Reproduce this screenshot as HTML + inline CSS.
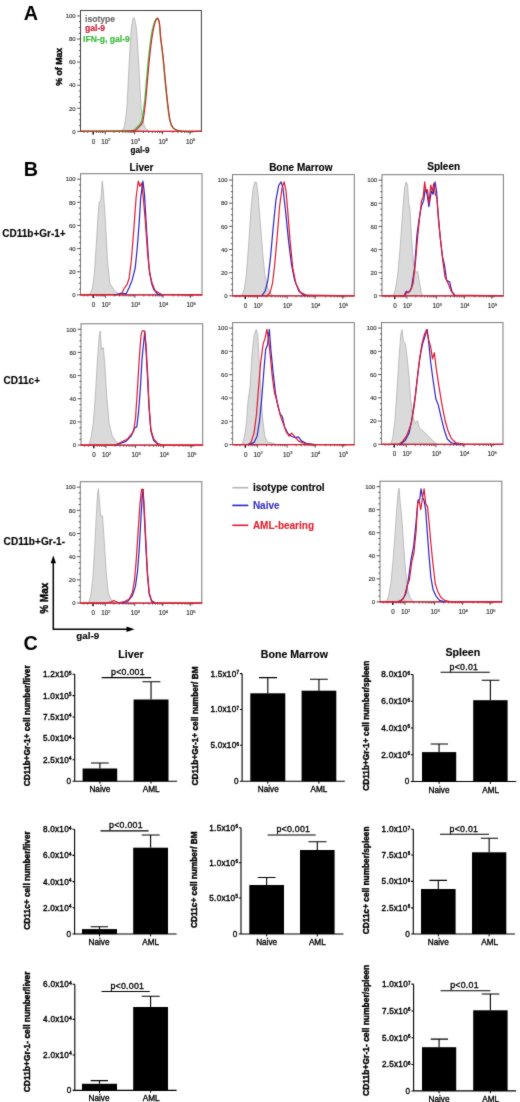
<!DOCTYPE html>
<html lang="en"><head><meta charset="utf-8"><title>Figure</title>
<style>html,body{margin:0;padding:0;background:#fff}body{width:520px;height:1102px;overflow:hidden}svg{display:block;font-family:'Liberation Sans', sans-serif}</style>
</head><body>
<svg width="520" height="1102" viewBox="0 0 520 1102" role="img" aria-label="Flow cytometry histograms and bar charts of gal-9 expression">
<defs><filter id="soft" x="0" y="0" width="520" height="1102" filterUnits="userSpaceOnUse" color-interpolation-filters="sRGB"><feConvolveMatrix order="3" kernelMatrix="1 3 1 3 30 3 1 3 1" divisor="46" edgeMode="duplicate" preserveAlpha="false"/></filter></defs>
<rect width="520" height="1102" fill="#fff"/>
<g filter="url(#soft)">
<rect width="520" height="1102" fill="#fff"/>
<text x="23.8" y="19.8" font-size="19.8" font-weight="bold" fill="#000" text-anchor="start">A</text>
<text x="23.7" y="176.3" font-size="19.8" font-weight="bold" fill="#000" text-anchor="start">B</text>
<text x="23.5" y="649.6" font-size="19.8" font-weight="bold" fill="#000" text-anchor="start">C</text>
<path d="M121.24 131.38C121.6 130.78 123.68 128.92 124.32 126.17C124.97 123.41 126.25 114.55 126.79 107.75C127.33 100.95 128.45 76.8 128.95 67.85C129.45 58.9 130.64 36.75 131.11 31.02C131.58 25.29 132.57 20.17 132.96 18.74C133.36 17.31 134.07 17.31 134.5 18.74C134.94 20.17 136.12 24.93 136.66 31.02C137.2 37.11 138.59 61.97 139.13 70.92C139.67 79.87 140.68 101.31 141.29 107.75C141.9 114.2 143.47 123.41 144.37 126.17C145.27 128.92 148.46 130.78 149 131.38Z" fill="#dadada" stroke="#a8a8a8" stroke-width="0.7" stroke-linejoin="round"/>
<rect x="80.5" y="10.5" width="120.9" height="120.9" fill="none" stroke="#404040" stroke-width="1"/>
<text x="75.7" y="133.66" font-size="6" font-weight="normal" fill="#2e2e2e" text-anchor="end" stroke="#2e2e2e" stroke-width="0.12">0</text>
<text x="75.7" y="110.57" font-size="6" font-weight="normal" fill="#2e2e2e" text-anchor="end" stroke="#2e2e2e" stroke-width="0.12">20</text>
<text x="75.7" y="87.48" font-size="6" font-weight="normal" fill="#2e2e2e" text-anchor="end" stroke="#2e2e2e" stroke-width="0.12">40</text>
<text x="75.7" y="64.38" font-size="6" font-weight="normal" fill="#2e2e2e" text-anchor="end" stroke="#2e2e2e" stroke-width="0.12">60</text>
<text x="75.7" y="41.29" font-size="6" font-weight="normal" fill="#2e2e2e" text-anchor="end" stroke="#2e2e2e" stroke-width="0.12">80</text>
<text x="75.7" y="18.2" font-size="6" font-weight="normal" fill="#2e2e2e" text-anchor="end" stroke="#2e2e2e" stroke-width="0.12">100</text>
<path d="M77.1 131.4H80.5M78.9 125.63H80.5M78.9 119.85H80.5M78.9 114.08H80.5M77.1 108.31H80.5M78.9 102.54H80.5M78.9 96.76H80.5M78.9 90.99H80.5M77.1 85.22H80.5M78.9 79.44H80.5M78.9 73.67H80.5M78.9 67.9H80.5M77.1 62.12H80.5M78.9 56.35H80.5M78.9 50.58H80.5M78.9 44.81H80.5M77.1 39.03H80.5M78.9 33.26H80.5M78.9 27.49H80.5M78.9 21.71H80.5M77.1 15.94H80.5M93.19 131.4V134.4M105.28 131.4V134.4M134.66 131.4V134.4M162.47 131.4V134.4M189.91 131.4V134.4M96.44 131.4V133M98.77 131.4V133M100.73 131.4V133M102.44 131.4V133M103.94 131.4V133M114.13 131.4V133M119.3 131.4V133M122.97 131.4V133M125.82 131.4V133M128.15 131.4V133M130.11 131.4V133M131.82 131.4V133M133.32 131.4V133M143.51 131.4V133M148.68 131.4V133M152.35 131.4V133M155.2 131.4V133M157.52 131.4V133M159.49 131.4V133M161.19 131.4V133M162.7 131.4V133M172.89 131.4V133M178.06 131.4V133M181.73 131.4V133M184.58 131.4V133M186.9 131.4V133M188.87 131.4V133M190.57 131.4V133M192.08 131.4V133M84.13 131.4V133M87.75 131.4V133" stroke="#444" stroke-width="0.9" fill="none"/>
<path d="M93.19 131.4V134.6" stroke="#111" stroke-width="1.3" fill="none"/>
<text x="93.49" y="143.5" font-size="6.3" font-weight="normal" fill="#2e2e2e" text-anchor="middle" stroke="#2e2e2e" stroke-width="0.12">0</text>
<text x="105.88" y="143.5" font-size="6.3" fill="#2e2e2e" stroke="#2e2e2e" stroke-width="0.15" text-anchor="middle">10<tspan dy="-2.3" font-size="3.96">2</tspan></text>
<text x="135.26" y="143.5" font-size="6.3" fill="#2e2e2e" stroke="#2e2e2e" stroke-width="0.15" text-anchor="middle">10<tspan dy="-2.3" font-size="3.96">3</tspan></text>
<text x="163.07" y="143.5" font-size="6.3" fill="#2e2e2e" stroke="#2e2e2e" stroke-width="0.15" text-anchor="middle">10<tspan dy="-2.3" font-size="3.96">4</tspan></text>
<text x="190.51" y="143.5" font-size="6.3" fill="#2e2e2e" stroke="#2e2e2e" stroke-width="0.15" text-anchor="middle">10<tspan dy="-2.3" font-size="3.96">5</tspan></text>
<path d="M80.5 131.4H201.4" stroke="#dc1a30" stroke-width="1.25" fill="none"/>
<path d="M80.52 131.38C86.35 131.31 123.94 131.2 130.49 130.77C137.04 130.34 135.37 128.78 136.66 127.7C137.96 126.63 140.66 124.61 141.6 121.56C142.53 118.52 144.07 106.77 144.68 101.61C145.29 96.46 146.37 82.52 146.84 77.36C147.31 72.21 148.19 62.11 148.69 57.41C149.2 52.72 150.55 41.06 151.16 37.16C151.77 33.25 153.25 26.11 153.94 23.96C154.62 21.81 156.41 18.92 157.02 18.74C157.63 18.56 158.78 20.35 159.18 22.42C159.58 24.5 159.98 32.53 160.41 36.54C160.85 40.55 162.38 52.07 162.88 56.8C163.39 61.53 164.23 71.83 164.73 77.06C165.24 82.29 166.62 96.6 167.2 101.61C167.78 106.63 169.02 116.98 169.67 120.03C170.32 123.07 171.85 126.48 172.75 127.7C173.65 128.92 176.19 130.03 177.38 130.46C178.57 130.89 180.12 131.28 182.93 131.38C185.74 131.49 199.28 131.38 201.44 131.38" fill="none" stroke="#3cc43c" stroke-width="1.4" stroke-linejoin="round" stroke-linecap="round"/>
<path d="M80.52 131.38C86.53 131.31 125.31 131.2 132.04 130.77C138.77 130.34 136.95 128.78 138.2 127.7C139.46 126.63 141.97 124.61 142.83 121.56C143.7 118.52 145.03 106.77 145.61 101.61C146.18 96.46 147.3 82.52 147.77 77.36C148.23 72.21 149.11 62.11 149.62 57.41C150.12 52.72 151.47 41.13 152.09 37.16C152.7 33.18 154.23 25.57 154.86 23.35C155.49 21.12 156.94 18.13 157.48 18.13C158.02 18.13 159.11 21.12 159.49 23.35C159.87 25.57 160.29 33.18 160.72 37.16C161.15 41.13 162.69 52.72 163.19 57.41C163.69 62.11 164.54 72.21 165.04 77.36C165.54 82.52 166.93 96.63 167.51 101.61C168.08 106.59 169.33 116.98 169.98 120.03C170.62 123.07 172.2 126.48 173.06 127.7C173.92 128.92 176.23 130.03 177.38 130.46C178.53 130.89 180.12 131.28 182.93 131.38C185.74 131.49 199.28 131.38 201.44 131.38" fill="none" stroke="#dc1a30" stroke-width="1.1" stroke-linejoin="round" stroke-linecap="round"/>
<text x="85" y="21.5" font-size="8.6" font-weight="bold" fill="#6a6a6a" text-anchor="start" stroke="#6a6a6a" stroke-width="0.12">isotype</text>
<text x="85" y="31.3" font-size="8.6" font-weight="bold" fill="#d01830" text-anchor="start" stroke="#d01830" stroke-width="0.12">gal-9</text>
<text x="83" y="42" font-size="8.6" font-weight="bold" fill="#35b835" text-anchor="start" stroke="#35b835" stroke-width="0.12">IFN-g, gal-9</text>
<text x="140" y="153.3" font-size="8.2" font-weight="bold" fill="#000" text-anchor="middle" stroke="#000" stroke-width="0.12">gal-9</text>
<text x="62.4" y="66.8" font-size="8.8" font-weight="bold" fill="#000" text-anchor="middle" transform="rotate(-90 62.4 66.8)" stroke="#000" stroke-width="0.4">% of Max</text>
<text x="141.5" y="170.8" font-size="10" font-weight="bold" fill="#000" text-anchor="middle" stroke="#000" stroke-width="0.12">Liver</text>
<text x="300.8" y="170.8" font-size="10" font-weight="bold" fill="#000" text-anchor="middle" stroke="#000" stroke-width="0.12">Bone Marrow</text>
<text x="443.7" y="170.3" font-size="10" font-weight="bold" fill="#000" text-anchor="middle" stroke="#000" stroke-width="0.12">Spleen</text>
<text x="2.3" y="236.8" font-size="10" font-weight="bold" fill="#000" text-anchor="start" stroke="#000" stroke-width="0.12">CD11b+Gr-1+</text>
<text x="3.6" y="384.2" font-size="10" font-weight="bold" fill="#000" text-anchor="start" stroke="#000" stroke-width="0.12">CD11c+</text>
<text x="3.6" y="545" font-size="10.1" font-weight="bold" fill="#000" text-anchor="start" stroke="#000" stroke-width="0.12">CD11b+Gr-1-</text>
<path d="M89.12 294.87 L92.2 289.33 L94.35 273.95 L96.19 246.25 L98.04 215.48 L99.27 201.64 L100.81 200.1 L102.34 181.02 L103.57 193.95 L105.42 221.64 L107.57 261.64 L109.72 283.18 L113.72 289.33 L118.33 293.95 L121.4 294.87Z" fill="#dadada" stroke="#a8a8a8" stroke-width="0.7" stroke-linejoin="round"/>
<rect x="80.5" y="173.7" width="121.5" height="121.2" fill="none" stroke="#7a7a7a" stroke-width="1"/>
<text x="75.7" y="297.16" font-size="6" font-weight="normal" fill="#2e2e2e" text-anchor="end" stroke="#2e2e2e" stroke-width="0.12">0</text>
<text x="75.7" y="274.01" font-size="6" font-weight="normal" fill="#2e2e2e" text-anchor="end" stroke="#2e2e2e" stroke-width="0.12">20</text>
<text x="75.7" y="250.86" font-size="6" font-weight="normal" fill="#2e2e2e" text-anchor="end" stroke="#2e2e2e" stroke-width="0.12">40</text>
<text x="75.7" y="227.71" font-size="6" font-weight="normal" fill="#2e2e2e" text-anchor="end" stroke="#2e2e2e" stroke-width="0.12">60</text>
<text x="75.7" y="204.56" font-size="6" font-weight="normal" fill="#2e2e2e" text-anchor="end" stroke="#2e2e2e" stroke-width="0.12">80</text>
<text x="75.7" y="181.41" font-size="6" font-weight="normal" fill="#2e2e2e" text-anchor="end" stroke="#2e2e2e" stroke-width="0.12">100</text>
<path d="M77.1 294.9H80.5M78.9 289.11H80.5M78.9 283.33H80.5M78.9 277.54H80.5M77.1 271.75H80.5M78.9 265.96H80.5M78.9 260.18H80.5M78.9 254.39H80.5M77.1 248.6H80.5M78.9 242.81H80.5M78.9 237.03H80.5M78.9 231.24H80.5M77.1 225.45H80.5M78.9 219.67H80.5M78.9 213.88H80.5M78.9 208.09H80.5M77.1 202.3H80.5M78.9 196.52H80.5M78.9 190.73H80.5M78.9 184.94H80.5M77.1 179.15H80.5M93.26 294.9V297.9M105.41 294.9V297.9M134.93 294.9V297.9M162.88 294.9V297.9M190.46 294.9V297.9M96.52 294.9V296.5M98.86 294.9V296.5M100.83 294.9V296.5M102.55 294.9V296.5M104.06 294.9V296.5M114.3 294.9V296.5M119.49 294.9V296.5M123.18 294.9V296.5M126.04 294.9V296.5M128.38 294.9V296.5M130.36 294.9V296.5M132.07 294.9V296.5M133.58 294.9V296.5M143.82 294.9V296.5M149.02 294.9V296.5M152.71 294.9V296.5M155.57 294.9V296.5M157.91 294.9V296.5M159.88 294.9V296.5M161.6 294.9V296.5M163.11 294.9V296.5M173.34 294.9V296.5M178.54 294.9V296.5M182.23 294.9V296.5M185.09 294.9V296.5M187.43 294.9V296.5M189.41 294.9V296.5M191.12 294.9V296.5M192.63 294.9V296.5M84.14 294.9V296.5M87.79 294.9V296.5" stroke="#444" stroke-width="0.9" fill="none"/>
<path d="M93.26 294.9V298.1" stroke="#111" stroke-width="1.3" fill="none"/>
<text x="93.56" y="307" font-size="6.3" font-weight="normal" fill="#2e2e2e" text-anchor="middle" stroke="#2e2e2e" stroke-width="0.12">0</text>
<text x="106.01" y="307" font-size="6.3" fill="#2e2e2e" stroke="#2e2e2e" stroke-width="0.15" text-anchor="middle">10<tspan dy="-2.3" font-size="3.96">2</tspan></text>
<text x="135.53" y="307" font-size="6.3" fill="#2e2e2e" stroke="#2e2e2e" stroke-width="0.15" text-anchor="middle">10<tspan dy="-2.3" font-size="3.96">3</tspan></text>
<text x="163.48" y="307" font-size="6.3" fill="#2e2e2e" stroke="#2e2e2e" stroke-width="0.15" text-anchor="middle">10<tspan dy="-2.3" font-size="3.96">4</tspan></text>
<text x="191.06" y="307" font-size="6.3" fill="#2e2e2e" stroke="#2e2e2e" stroke-width="0.15" text-anchor="middle">10<tspan dy="-2.3" font-size="3.96">5</tspan></text>
<path d="M80.5 294.9H202" stroke="#dc1a30" stroke-width="1.25" fill="none"/>
<path d="M115.26 294.87 L121.4 293.02 L126.02 293.95 L129.09 287.79 L132.17 280.1 L135.24 267.79 L137.39 246.25 L139.24 221.64 L140.77 197.02 L142.93 181.02 L144.46 193.95 L146.61 230.87 L149.07 267.79 L151.53 283.18 L153.69 289.33 L157.68 294.25 L161.37 294.87" fill="none" stroke="#2b25c0" stroke-width="1.2" stroke-linejoin="round" stroke-linecap="round"/>
<path d="M80.52 294.87 L121.4 294.25 L124.48 287.79 L126.94 284.72 L129.09 278.56 L131.24 261.64 L133.7 230.87 L136.16 197.02 L138.31 181.02 L139.85 186.25 L141.7 183.18 L142.93 193.95 L145.39 221.64 L147.54 252.41 L149.69 273.95 L152.15 283.18 L155.22 290.87 L161.37 294.25 L201.95 294.87" fill="none" stroke="#dc1a30" stroke-width="1.2" stroke-linejoin="round" stroke-linecap="round"/>
<path d="M241.76 295.78 L244.22 289.63 L246.37 274.23 L248.53 246.51 L250.98 209.56 L253.14 188 L254.98 181.84 L256.52 182.46 L258.06 194.16 L260.21 221.88 L262.67 252.67 L264.82 274.23 L267.89 288.09 L270.97 294.24 L274.04 295.78Z" fill="#dadada" stroke="#a8a8a8" stroke-width="0.7" stroke-linejoin="round"/>
<rect x="232.5" y="174.6" width="121.8" height="121.2" fill="none" stroke="#7a7a7a" stroke-width="1"/>
<text x="227.7" y="298.06" font-size="6" font-weight="normal" fill="#2e2e2e" text-anchor="end" stroke="#2e2e2e" stroke-width="0.12">0</text>
<text x="227.7" y="274.91" font-size="6" font-weight="normal" fill="#2e2e2e" text-anchor="end" stroke="#2e2e2e" stroke-width="0.12">20</text>
<text x="227.7" y="251.76" font-size="6" font-weight="normal" fill="#2e2e2e" text-anchor="end" stroke="#2e2e2e" stroke-width="0.12">40</text>
<text x="227.7" y="228.61" font-size="6" font-weight="normal" fill="#2e2e2e" text-anchor="end" stroke="#2e2e2e" stroke-width="0.12">60</text>
<text x="227.7" y="205.46" font-size="6" font-weight="normal" fill="#2e2e2e" text-anchor="end" stroke="#2e2e2e" stroke-width="0.12">80</text>
<text x="227.7" y="182.31" font-size="6" font-weight="normal" fill="#2e2e2e" text-anchor="end" stroke="#2e2e2e" stroke-width="0.12">100</text>
<path d="M229.1 295.8H232.5M230.9 290.01H232.5M230.9 284.23H232.5M230.9 278.44H232.5M229.1 272.65H232.5M230.9 266.86H232.5M230.9 261.08H232.5M230.9 255.29H232.5M229.1 249.5H232.5M230.9 243.71H232.5M230.9 237.93H232.5M230.9 232.14H232.5M229.1 226.35H232.5M230.9 220.57H232.5M230.9 214.78H232.5M230.9 208.99H232.5M229.1 203.2H232.5M230.9 197.42H232.5M230.9 191.63H232.5M230.9 185.84H232.5M229.1 180.05H232.5M245.29 295.8V298.8M257.47 295.8V298.8M287.07 295.8V298.8M315.08 295.8V298.8M342.73 295.8V298.8M248.56 295.8V297.4M250.9 295.8V297.4M252.88 295.8V297.4M254.6 295.8V297.4M256.11 295.8V297.4M266.38 295.8V297.4M271.59 295.8V297.4M275.29 295.8V297.4M278.16 295.8V297.4M280.5 295.8V297.4M282.48 295.8V297.4M284.2 295.8V297.4M285.71 295.8V297.4M295.98 295.8V297.4M301.19 295.8V297.4M304.89 295.8V297.4M307.75 295.8V297.4M310.1 295.8V297.4M312.08 295.8V297.4M313.8 295.8V297.4M315.31 295.8V297.4M325.57 295.8V297.4M330.79 295.8V297.4M334.48 295.8V297.4M337.35 295.8V297.4M339.7 295.8V297.4M341.68 295.8V297.4M343.39 295.8V297.4M344.91 295.8V297.4M236.15 295.8V297.4M239.81 295.8V297.4" stroke="#444" stroke-width="0.9" fill="none"/>
<path d="M245.29 295.8V299" stroke="#111" stroke-width="1.3" fill="none"/>
<text x="245.59" y="307.9" font-size="6.3" font-weight="normal" fill="#2e2e2e" text-anchor="middle" stroke="#2e2e2e" stroke-width="0.12">0</text>
<text x="258.07" y="307.9" font-size="6.3" fill="#2e2e2e" stroke="#2e2e2e" stroke-width="0.15" text-anchor="middle">10<tspan dy="-2.3" font-size="3.96">2</tspan></text>
<text x="287.67" y="307.9" font-size="6.3" fill="#2e2e2e" stroke="#2e2e2e" stroke-width="0.15" text-anchor="middle">10<tspan dy="-2.3" font-size="3.96">3</tspan></text>
<text x="315.68" y="307.9" font-size="6.3" fill="#2e2e2e" stroke="#2e2e2e" stroke-width="0.15" text-anchor="middle">10<tspan dy="-2.3" font-size="3.96">4</tspan></text>
<text x="343.33" y="307.9" font-size="6.3" fill="#2e2e2e" stroke="#2e2e2e" stroke-width="0.15" text-anchor="middle">10<tspan dy="-2.3" font-size="3.96">5</tspan></text>
<path d="M232.5 295.8H354.3" stroke="#dc1a30" stroke-width="1.25" fill="none"/>
<path d="M261.75 295.78 L265.13 291.17 L267.89 280.39 L270.66 255.75 L273.12 228.04 L275.89 200.32 L278.65 185.54 L281.11 181.84 L282.96 188 L285.73 212.64 L288.49 240.35 L291.57 264.99 L294.64 280.39 L298.95 291.17 L303.25 294.86 L309.4 295.78" fill="none" stroke="#2b25c0" stroke-width="1.2" stroke-linejoin="round" stroke-linecap="round"/>
<path d="M232.54 295.78 L266.97 295.78 L270.05 292.71 L272.51 283.47 L274.66 264.99 L277.12 237.27 L279.58 206.48 L282.04 188 L284.19 181.84 L286.03 191.08 L287.88 212.64 L290.03 240.35 L292.8 268.07 L295.87 283.47 L300.18 292.09 L306.32 295.17 L354.28 295.78" fill="none" stroke="#dc1a30" stroke-width="1.2" stroke-linejoin="round" stroke-linecap="round"/>
<path d="M393.22 295.78 L395.35 289.63 L397.79 274.25 L400.23 246.55 L402.37 215.78 L404.51 188.09 L406.03 181.94 L407.56 185.02 L408.78 203.48 L410 209.63 L411.53 237.32 L413.66 265.02 L416.1 272.71 L417.63 271.17 L419.16 280.4 L421.29 292.71 L422.82 295.78Z" fill="#dadada" stroke="#a8a8a8" stroke-width="0.7" stroke-linejoin="round"/>
<rect x="382" y="174.7" width="121.4" height="121.1" fill="none" stroke="#7a7a7a" stroke-width="1"/>
<text x="377.2" y="298.06" font-size="6" font-weight="normal" fill="#2e2e2e" text-anchor="end" stroke="#2e2e2e" stroke-width="0.12">0</text>
<text x="377.2" y="274.93" font-size="6" font-weight="normal" fill="#2e2e2e" text-anchor="end" stroke="#2e2e2e" stroke-width="0.12">20</text>
<text x="377.2" y="251.8" font-size="6" font-weight="normal" fill="#2e2e2e" text-anchor="end" stroke="#2e2e2e" stroke-width="0.12">40</text>
<text x="377.2" y="228.67" font-size="6" font-weight="normal" fill="#2e2e2e" text-anchor="end" stroke="#2e2e2e" stroke-width="0.12">60</text>
<text x="377.2" y="205.54" font-size="6" font-weight="normal" fill="#2e2e2e" text-anchor="end" stroke="#2e2e2e" stroke-width="0.12">80</text>
<text x="377.2" y="182.41" font-size="6" font-weight="normal" fill="#2e2e2e" text-anchor="end" stroke="#2e2e2e" stroke-width="0.12">100</text>
<path d="M378.6 295.8H382M380.4 290.02H382M380.4 284.23H382M380.4 278.45H382M378.6 272.67H382M380.4 266.89H382M380.4 261.1H382M380.4 255.32H382M378.6 249.54H382M380.4 243.76H382M380.4 237.97H382M380.4 232.19H382M378.6 226.41H382M380.4 220.63H382M380.4 214.84H382M380.4 209.06H382M378.6 203.28H382M380.4 197.5H382M380.4 191.71H382M380.4 185.93H382M378.6 180.15H382M394.75 295.8V298.8M406.89 295.8V298.8M436.39 295.8V298.8M464.31 295.8V298.8M491.87 295.8V298.8M398.01 295.8V297.4M400.34 295.8V297.4M402.32 295.8V297.4M404.03 295.8V297.4M405.54 295.8V297.4M415.77 295.8V297.4M420.96 295.8V297.4M424.65 295.8V297.4M427.51 295.8V297.4M429.84 295.8V297.4M431.82 295.8V297.4M433.53 295.8V297.4M435.04 295.8V297.4M445.27 295.8V297.4M450.46 295.8V297.4M454.15 295.8V297.4M457.01 295.8V297.4M459.34 295.8V297.4M461.32 295.8V297.4M463.03 295.8V297.4M464.54 295.8V297.4M474.77 295.8V297.4M479.96 295.8V297.4M483.65 295.8V297.4M486.51 295.8V297.4M488.84 295.8V297.4M490.82 295.8V297.4M492.53 295.8V297.4M494.04 295.8V297.4M385.64 295.8V297.4M389.28 295.8V297.4" stroke="#444" stroke-width="0.9" fill="none"/>
<path d="M394.75 295.8V299" stroke="#111" stroke-width="1.3" fill="none"/>
<text x="395.05" y="307.9" font-size="6.3" font-weight="normal" fill="#2e2e2e" text-anchor="middle" stroke="#2e2e2e" stroke-width="0.12">0</text>
<text x="407.49" y="307.9" font-size="6.3" fill="#2e2e2e" stroke="#2e2e2e" stroke-width="0.15" text-anchor="middle">10<tspan dy="-2.3" font-size="3.96">2</tspan></text>
<text x="436.99" y="307.9" font-size="6.3" fill="#2e2e2e" stroke="#2e2e2e" stroke-width="0.15" text-anchor="middle">10<tspan dy="-2.3" font-size="3.96">3</tspan></text>
<text x="464.91" y="307.9" font-size="6.3" fill="#2e2e2e" stroke="#2e2e2e" stroke-width="0.15" text-anchor="middle">10<tspan dy="-2.3" font-size="3.96">4</tspan></text>
<text x="492.47" y="307.9" font-size="6.3" fill="#2e2e2e" stroke="#2e2e2e" stroke-width="0.15" text-anchor="middle">10<tspan dy="-2.3" font-size="3.96">5</tspan></text>
<path d="M382 295.8H503.4" stroke="#dc1a30" stroke-width="1.25" fill="none"/>
<path d="M403.9 295.78 L406.34 291.17 L408.47 292.71 L411.53 288.09 L414.58 268.09 L417.02 234.25 L419.16 218.86 L421.29 206.55 L423.73 200.4 L425.26 188.09 L427.09 194.25 L428.92 206.55 L431.36 191.17 L433.19 194.25 L435.02 181.94 L436.55 191.17 L438.08 212.71 L439.91 234.25 L442.35 255.78 L444.49 265.02 L446.62 280.4 L449.67 281.94 L451.81 291.17 L455.17 295.78" fill="none" stroke="#2b25c0" stroke-width="1.2" stroke-linejoin="round" stroke-linecap="round"/>
<path d="M381.92 295.78 L403.9 295.78 L406.95 292.71 L410 291.17 L413.05 283.48 L415.49 261.94 L417.63 237.32 L419.77 215.78 L421.6 200.4 L423.12 197.32 L424.65 181.94 L425.87 191.17 L427.4 189.63 L428.92 203.48 L430.75 185.02 L432.28 191.17 L433.8 183.48 L435.33 194.25 L436.86 197.32 L438.38 218.86 L440.52 240.4 L442.96 261.94 L445.1 277.32 L448.15 283.48 L451.2 291.17 L454.25 295.17 L503.38 295.78" fill="none" stroke="#dc1a30" stroke-width="1.2" stroke-linejoin="round" stroke-linecap="round"/>
<path d="M88.6 445.08 L90.75 438.95 L93.2 423.6 L95.35 395.98 L97.5 359.14 L99.34 334.59 L100.26 330.91 L101.49 349.94 L103.33 347.48 L104.86 365.28 L106.71 395.98 L109.16 423.6 L112.23 435.88 L116.83 442.63 L119.9 445.08Z" fill="#dadada" stroke="#a8a8a8" stroke-width="0.7" stroke-linejoin="round"/>
<rect x="81" y="323.8" width="121.7" height="121.3" fill="none" stroke="#7a7a7a" stroke-width="1"/>
<text x="76.2" y="447.36" font-size="6" font-weight="normal" fill="#2e2e2e" text-anchor="end" stroke="#2e2e2e" stroke-width="0.12">0</text>
<text x="76.2" y="424.19" font-size="6" font-weight="normal" fill="#2e2e2e" text-anchor="end" stroke="#2e2e2e" stroke-width="0.12">20</text>
<text x="76.2" y="401.02" font-size="6" font-weight="normal" fill="#2e2e2e" text-anchor="end" stroke="#2e2e2e" stroke-width="0.12">40</text>
<text x="76.2" y="377.86" font-size="6" font-weight="normal" fill="#2e2e2e" text-anchor="end" stroke="#2e2e2e" stroke-width="0.12">60</text>
<text x="76.2" y="354.69" font-size="6" font-weight="normal" fill="#2e2e2e" text-anchor="end" stroke="#2e2e2e" stroke-width="0.12">80</text>
<text x="76.2" y="331.52" font-size="6" font-weight="normal" fill="#2e2e2e" text-anchor="end" stroke="#2e2e2e" stroke-width="0.12">100</text>
<path d="M77.6 445.1H81M79.4 439.31H81M79.4 433.52H81M79.4 427.72H81M77.6 421.93H81M79.4 416.14H81M79.4 410.35H81M79.4 404.56H81M77.6 398.76H81M79.4 392.97H81M79.4 387.18H81M79.4 381.39H81M77.6 375.6H81M79.4 369.8H81M79.4 364.01H81M79.4 358.22H81M77.6 352.43H81M79.4 346.63H81M79.4 340.84H81M79.4 335.05H81M77.6 329.26H81M93.78 445.1V448.1M105.95 445.1V448.1M135.52 445.1V448.1M163.51 445.1V448.1M191.14 445.1V448.1M97.05 445.1V446.7M99.39 445.1V446.7M101.37 445.1V446.7M103.08 445.1V446.7M104.6 445.1V446.7M114.85 445.1V446.7M120.06 445.1V446.7M123.75 445.1V446.7M126.62 445.1V446.7M128.96 445.1V446.7M130.94 445.1V446.7M132.66 445.1V446.7M134.17 445.1V446.7M144.42 445.1V446.7M149.63 445.1V446.7M153.33 445.1V446.7M156.19 445.1V446.7M158.53 445.1V446.7M160.51 445.1V446.7M162.23 445.1V446.7M163.74 445.1V446.7M174 445.1V446.7M179.2 445.1V446.7M182.9 445.1V446.7M185.77 445.1V446.7M188.11 445.1V446.7M190.09 445.1V446.7M191.8 445.1V446.7M193.31 445.1V446.7M84.65 445.1V446.7M88.3 445.1V446.7" stroke="#444" stroke-width="0.9" fill="none"/>
<path d="M93.78 445.1V448.3" stroke="#111" stroke-width="1.3" fill="none"/>
<text x="94.08" y="457.2" font-size="6.3" font-weight="normal" fill="#2e2e2e" text-anchor="middle" stroke="#2e2e2e" stroke-width="0.12">0</text>
<text x="106.55" y="457.2" font-size="6.3" fill="#2e2e2e" stroke="#2e2e2e" stroke-width="0.15" text-anchor="middle">10<tspan dy="-2.3" font-size="3.96">2</tspan></text>
<text x="136.12" y="457.2" font-size="6.3" fill="#2e2e2e" stroke="#2e2e2e" stroke-width="0.15" text-anchor="middle">10<tspan dy="-2.3" font-size="3.96">3</tspan></text>
<text x="164.11" y="457.2" font-size="6.3" fill="#2e2e2e" stroke="#2e2e2e" stroke-width="0.15" text-anchor="middle">10<tspan dy="-2.3" font-size="3.96">4</tspan></text>
<text x="191.74" y="457.2" font-size="6.3" fill="#2e2e2e" stroke="#2e2e2e" stroke-width="0.15" text-anchor="middle">10<tspan dy="-2.3" font-size="3.96">5</tspan></text>
<path d="M81 445.1H202.7" stroke="#dc1a30" stroke-width="1.25" fill="none"/>
<path d="M115.3 445.08 L119.9 443.55 L126.04 441.4 L131.26 435.88 L134.33 428.2 L136.79 426.67 L138.63 411.32 L140.47 386.77 L142 359.14 L143.54 343.8 L144.77 331.52 L145.99 349.94 L147.53 377.56 L149.06 408.25 L150.9 431.27 L153.67 440.48 L158.27 444.47" fill="none" stroke="#2b25c0" stroke-width="1.2" stroke-linejoin="round" stroke-linecap="round"/>
<path d="M80.92 445.08 L115.3 445.08 L121.44 442.02 L127.58 438.95 L131.26 434.34 L133.72 431.27 L135.56 417.46 L137.4 389.84 L139.24 359.14 L141.08 334.59 L142.31 330.91 L144.46 330.91 L145.99 343.8 L147.53 371.42 L149.06 405.18 L150.9 429.74 L153.67 438.95 L157.66 443.55 L162.88 445.08 L202.78 445.08" fill="none" stroke="#dc1a30" stroke-width="1.2" stroke-linejoin="round" stroke-linecap="round"/>
<path d="M241.81 444.56 L244.25 437.75 L246.39 423.83 L247.92 402.16 L250.06 386.69 L251.9 355.74 L254.04 335.63 L256.18 329.44 L257.7 334.08 L258.93 355.74 L260.76 389.79 L262.6 417.64 L264.73 436.21 L267.79 442.4 L272.38 443.01 L276.96 444.56Z" fill="#dadada" stroke="#a8a8a8" stroke-width="0.7" stroke-linejoin="round"/>
<rect x="232.6" y="322.6" width="121.7" height="122" fill="none" stroke="#7a7a7a" stroke-width="1"/>
<text x="227.8" y="446.86" font-size="6" font-weight="normal" fill="#2e2e2e" text-anchor="end" stroke="#2e2e2e" stroke-width="0.12">0</text>
<text x="227.8" y="423.56" font-size="6" font-weight="normal" fill="#2e2e2e" text-anchor="end" stroke="#2e2e2e" stroke-width="0.12">20</text>
<text x="227.8" y="400.26" font-size="6" font-weight="normal" fill="#2e2e2e" text-anchor="end" stroke="#2e2e2e" stroke-width="0.12">40</text>
<text x="227.8" y="376.95" font-size="6" font-weight="normal" fill="#2e2e2e" text-anchor="end" stroke="#2e2e2e" stroke-width="0.12">60</text>
<text x="227.8" y="353.65" font-size="6" font-weight="normal" fill="#2e2e2e" text-anchor="end" stroke="#2e2e2e" stroke-width="0.12">80</text>
<text x="227.8" y="330.35" font-size="6" font-weight="normal" fill="#2e2e2e" text-anchor="end" stroke="#2e2e2e" stroke-width="0.12">100</text>
<path d="M229.2 444.6H232.6M231 438.77H232.6M231 432.95H232.6M231 427.12H232.6M229.2 421.3H232.6M231 415.47H232.6M231 409.65H232.6M231 403.82H232.6M229.2 398H232.6M231 392.17H232.6M231 386.35H232.6M231 380.52H232.6M229.2 374.69H232.6M231 368.87H232.6M231 363.04H232.6M231 357.22H232.6M229.2 351.39H232.6M231 345.57H232.6M231 339.74H232.6M231 333.92H232.6M229.2 328.09H232.6M245.38 444.6V447.6M257.55 444.6V447.6M287.12 444.6V447.6M315.11 444.6V447.6M342.74 444.6V447.6M248.65 444.6V446.2M250.99 444.6V446.2M252.97 444.6V446.2M254.68 444.6V446.2M256.2 444.6V446.2M266.45 444.6V446.2M271.66 444.6V446.2M275.35 444.6V446.2M278.22 444.6V446.2M280.56 444.6V446.2M282.54 444.6V446.2M284.26 444.6V446.2M285.77 444.6V446.2M296.02 444.6V446.2M301.23 444.6V446.2M304.93 444.6V446.2M307.79 444.6V446.2M310.13 444.6V446.2M312.11 444.6V446.2M313.83 444.6V446.2M315.34 444.6V446.2M325.6 444.6V446.2M330.8 444.6V446.2M334.5 444.6V446.2M337.37 444.6V446.2M339.71 444.6V446.2M341.69 444.6V446.2M343.4 444.6V446.2M344.91 444.6V446.2M236.25 444.6V446.2M239.9 444.6V446.2" stroke="#444" stroke-width="0.9" fill="none"/>
<path d="M245.38 444.6V447.8" stroke="#111" stroke-width="1.3" fill="none"/>
<text x="245.68" y="456.7" font-size="6.3" font-weight="normal" fill="#2e2e2e" text-anchor="middle" stroke="#2e2e2e" stroke-width="0.12">0</text>
<text x="258.15" y="456.7" font-size="6.3" fill="#2e2e2e" stroke="#2e2e2e" stroke-width="0.15" text-anchor="middle">10<tspan dy="-2.3" font-size="3.96">2</tspan></text>
<text x="287.72" y="456.7" font-size="6.3" fill="#2e2e2e" stroke="#2e2e2e" stroke-width="0.15" text-anchor="middle">10<tspan dy="-2.3" font-size="3.96">3</tspan></text>
<text x="315.71" y="456.7" font-size="6.3" fill="#2e2e2e" stroke="#2e2e2e" stroke-width="0.15" text-anchor="middle">10<tspan dy="-2.3" font-size="3.96">4</tspan></text>
<text x="343.34" y="456.7" font-size="6.3" fill="#2e2e2e" stroke="#2e2e2e" stroke-width="0.15" text-anchor="middle">10<tspan dy="-2.3" font-size="3.96">5</tspan></text>
<path d="M232.6 444.6H354.3" stroke="#dc1a30" stroke-width="1.25" fill="none"/>
<path d="M249.45 444.56 L254.04 442.4 L257.09 436.21 L259.54 420.73 L261.68 399.07 L263.82 371.22 L265.65 349.55 L267.49 344.91 L269.32 329.44 L270.85 349.55 L272.99 371.22 L275.43 392.88 L277.88 405.26 L280.32 414.54 L282.16 416.09 L284.6 426.92 L287.66 433.11 L291.33 436.21 L295.3 437.75 L298.36 436.82 L301.42 440.85 L306 443.32 L315.17 444.56" fill="none" stroke="#2b25c0" stroke-width="1.2" stroke-linejoin="round" stroke-linecap="round"/>
<path d="M232.64 444.56 L247.92 444.56 L250.98 442.4 L254.04 433.11 L256.48 414.54 L258.62 386.69 L260.76 361.93 L263.21 343.37 L265.04 338.72 L266.87 329.44 L268.71 340.27 L270.24 355.74 L272.38 377.41 L274.52 392.88 L276.35 399.07 L278.49 408.35 L280.94 417.64 L283.38 423.83 L286.13 431.56 L289.19 436.21 L291.64 433.11 L294.39 436.21 L298.36 440.85 L302.95 443.01 L312.12 444.56 L354.3 444.56" fill="none" stroke="#dc1a30" stroke-width="1.2" stroke-linejoin="round" stroke-linecap="round"/>
<path d="M390.65 444.26 L392.81 437.48 L394.96 420.53 L396.81 392.79 L398.96 358.89 L400.81 334.23 L402.04 329.61 L403.58 341.94 L405.42 343.48 L407.27 358.89 L409.12 377.38 L410.65 398.96 L412.81 415.91 L415.27 423.61 L417.42 420.53 L419.58 428.24 L423.58 431.32 L428.19 435.94 L432.81 440.56 L436.81 444.26Z" fill="#dadada" stroke="#a8a8a8" stroke-width="0.7" stroke-linejoin="round"/>
<rect x="381.5" y="322.6" width="121.5" height="121.7" fill="none" stroke="#7a7a7a" stroke-width="1"/>
<text x="376.7" y="446.56" font-size="6" font-weight="normal" fill="#2e2e2e" text-anchor="end" stroke="#2e2e2e" stroke-width="0.12">0</text>
<text x="376.7" y="423.32" font-size="6" font-weight="normal" fill="#2e2e2e" text-anchor="end" stroke="#2e2e2e" stroke-width="0.12">20</text>
<text x="376.7" y="400.07" font-size="6" font-weight="normal" fill="#2e2e2e" text-anchor="end" stroke="#2e2e2e" stroke-width="0.12">40</text>
<text x="376.7" y="376.83" font-size="6" font-weight="normal" fill="#2e2e2e" text-anchor="end" stroke="#2e2e2e" stroke-width="0.12">60</text>
<text x="376.7" y="353.58" font-size="6" font-weight="normal" fill="#2e2e2e" text-anchor="end" stroke="#2e2e2e" stroke-width="0.12">80</text>
<text x="376.7" y="330.34" font-size="6" font-weight="normal" fill="#2e2e2e" text-anchor="end" stroke="#2e2e2e" stroke-width="0.12">100</text>
<path d="M378.1 444.3H381.5M379.9 438.49H381.5M379.9 432.68H381.5M379.9 426.87H381.5M378.1 421.06H381.5M379.9 415.24H381.5M379.9 409.43H381.5M379.9 403.62H381.5M378.1 397.81H381.5M379.9 392H381.5M379.9 386.19H381.5M379.9 380.38H381.5M378.1 374.57H381.5M379.9 368.75H381.5M379.9 362.94H381.5M379.9 357.13H381.5M378.1 351.32H381.5M379.9 345.51H381.5M379.9 339.7H381.5M379.9 333.89H381.5M378.1 328.08H381.5M394.26 444.3V447.3M406.41 444.3V447.3M435.93 444.3V447.3M463.88 444.3V447.3M491.46 444.3V447.3M397.52 444.3V445.9M399.86 444.3V445.9M401.83 444.3V445.9M403.55 444.3V445.9M405.06 444.3V445.9M415.3 444.3V445.9M420.49 444.3V445.9M424.18 444.3V445.9M427.04 444.3V445.9M429.38 444.3V445.9M431.36 444.3V445.9M433.07 444.3V445.9M434.58 444.3V445.9M444.82 444.3V445.9M450.02 444.3V445.9M453.71 444.3V445.9M456.57 444.3V445.9M458.91 444.3V445.9M460.88 444.3V445.9M462.6 444.3V445.9M464.11 444.3V445.9M474.34 444.3V445.9M479.54 444.3V445.9M483.23 444.3V445.9M486.09 444.3V445.9M488.43 444.3V445.9M490.41 444.3V445.9M492.12 444.3V445.9M493.63 444.3V445.9M385.14 444.3V445.9M388.79 444.3V445.9" stroke="#444" stroke-width="0.9" fill="none"/>
<path d="M394.26 444.3V447.5" stroke="#111" stroke-width="1.3" fill="none"/>
<text x="394.56" y="456.4" font-size="6.3" font-weight="normal" fill="#2e2e2e" text-anchor="middle" stroke="#2e2e2e" stroke-width="0.12">0</text>
<text x="407.01" y="456.4" font-size="6.3" fill="#2e2e2e" stroke="#2e2e2e" stroke-width="0.15" text-anchor="middle">10<tspan dy="-2.3" font-size="3.96">2</tspan></text>
<text x="436.53" y="456.4" font-size="6.3" fill="#2e2e2e" stroke="#2e2e2e" stroke-width="0.15" text-anchor="middle">10<tspan dy="-2.3" font-size="3.96">3</tspan></text>
<text x="464.48" y="456.4" font-size="6.3" fill="#2e2e2e" stroke="#2e2e2e" stroke-width="0.15" text-anchor="middle">10<tspan dy="-2.3" font-size="3.96">4</tspan></text>
<text x="492.06" y="456.4" font-size="6.3" fill="#2e2e2e" stroke="#2e2e2e" stroke-width="0.15" text-anchor="middle">10<tspan dy="-2.3" font-size="3.96">5</tspan></text>
<path d="M381.5 444.3H503" stroke="#dc1a30" stroke-width="1.25" fill="none"/>
<path d="M400.5 444.26 L405.12 440.56 L409.12 432.86 L412.19 417.45 L415.27 395.87 L417.73 374.3 L420.19 355.81 L422.65 343.48 L425.12 335.78 L427.27 329.61 L428.81 343.48 L430.65 361.97 L433.12 380.46 L435.88 398.96 L438.35 405.12 L441.12 417.45 L444.19 429.78 L447.27 439.02 L451.27 442.72 L458.96 444.26" fill="none" stroke="#2b25c0" stroke-width="1.2" stroke-linejoin="round" stroke-linecap="round"/>
<path d="M381.42 444.26 L398.96 444.26 L402.04 442.1 L406.65 435.94 L411.27 423.61 L414.35 405.12 L416.81 383.55 L419.58 358.89 L422.04 343.48 L424.5 334.23 L426.65 329.61 L428.81 340.4 L430.65 346.56 L432.5 358.89 L434.35 352.73 L436.19 368.14 L438.96 386.63 L442.04 405.12 L445.12 420.53 L448.19 431.32 L451.27 438.41 L455.88 442.72 L465.12 444.26 L502.96 444.26" fill="none" stroke="#dc1a30" stroke-width="1.2" stroke-linejoin="round" stroke-linecap="round"/>
<path d="M88.31 603.03 L90.77 595.93 L92.92 577.41 L94.77 546.54 L96.31 515.67 L97.54 494.06 L98.46 488.81 L99.38 500.23 L100.62 515.67 L102.46 515.67 L104 537.28 L106.15 571.23 L108.31 592.84 L110.77 599.02 L113.85 603.03Z" fill="#dadada" stroke="#a8a8a8" stroke-width="0.7" stroke-linejoin="round"/>
<rect x="80.3" y="481.7" width="121.5" height="121.3" fill="none" stroke="#7a7a7a" stroke-width="1"/>
<text x="75.5" y="605.26" font-size="6" font-weight="normal" fill="#2e2e2e" text-anchor="end" stroke="#2e2e2e" stroke-width="0.12">0</text>
<text x="75.5" y="582.09" font-size="6" font-weight="normal" fill="#2e2e2e" text-anchor="end" stroke="#2e2e2e" stroke-width="0.12">20</text>
<text x="75.5" y="558.92" font-size="6" font-weight="normal" fill="#2e2e2e" text-anchor="end" stroke="#2e2e2e" stroke-width="0.12">40</text>
<text x="75.5" y="535.76" font-size="6" font-weight="normal" fill="#2e2e2e" text-anchor="end" stroke="#2e2e2e" stroke-width="0.12">60</text>
<text x="75.5" y="512.59" font-size="6" font-weight="normal" fill="#2e2e2e" text-anchor="end" stroke="#2e2e2e" stroke-width="0.12">80</text>
<text x="75.5" y="489.42" font-size="6" font-weight="normal" fill="#2e2e2e" text-anchor="end" stroke="#2e2e2e" stroke-width="0.12">100</text>
<path d="M76.9 603H80.3M78.7 597.21H80.3M78.7 591.42H80.3M78.7 585.62H80.3M76.9 579.83H80.3M78.7 574.04H80.3M78.7 568.25H80.3M78.7 562.46H80.3M76.9 556.66H80.3M78.7 550.87H80.3M78.7 545.08H80.3M78.7 539.29H80.3M76.9 533.5H80.3M78.7 527.7H80.3M78.7 521.91H80.3M78.7 516.12H80.3M76.9 510.33H80.3M78.7 504.53H80.3M78.7 498.74H80.3M78.7 492.95H80.3M76.9 487.16H80.3M93.06 603V606M105.21 603V606M134.73 603V606M162.68 603V606M190.26 603V606M96.32 603V604.6M98.66 603V604.6M100.63 603V604.6M102.35 603V604.6M103.86 603V604.6M114.1 603V604.6M119.29 603V604.6M122.98 603V604.6M125.84 603V604.6M128.18 603V604.6M130.16 603V604.6M131.87 603V604.6M133.38 603V604.6M143.62 603V604.6M148.82 603V604.6M152.51 603V604.6M155.37 603V604.6M157.71 603V604.6M159.68 603V604.6M161.4 603V604.6M162.91 603V604.6M173.14 603V604.6M178.34 603V604.6M182.03 603V604.6M184.89 603V604.6M187.23 603V604.6M189.21 603V604.6M190.92 603V604.6M192.43 603V604.6M83.94 603V604.6M87.59 603V604.6" stroke="#444" stroke-width="0.9" fill="none"/>
<path d="M93.06 603V606.2" stroke="#111" stroke-width="1.3" fill="none"/>
<text x="93.36" y="615.1" font-size="6.3" font-weight="normal" fill="#2e2e2e" text-anchor="middle" stroke="#2e2e2e" stroke-width="0.12">0</text>
<text x="105.81" y="615.1" font-size="6.3" fill="#2e2e2e" stroke="#2e2e2e" stroke-width="0.15" text-anchor="middle">10<tspan dy="-2.3" font-size="3.96">2</tspan></text>
<text x="135.33" y="615.1" font-size="6.3" fill="#2e2e2e" stroke="#2e2e2e" stroke-width="0.15" text-anchor="middle">10<tspan dy="-2.3" font-size="3.96">3</tspan></text>
<text x="163.28" y="615.1" font-size="6.3" fill="#2e2e2e" stroke="#2e2e2e" stroke-width="0.15" text-anchor="middle">10<tspan dy="-2.3" font-size="3.96">4</tspan></text>
<text x="190.86" y="615.1" font-size="6.3" fill="#2e2e2e" stroke="#2e2e2e" stroke-width="0.15" text-anchor="middle">10<tspan dy="-2.3" font-size="3.96">5</tspan></text>
<path d="M80.3 603H201.8" stroke="#dc1a30" stroke-width="1.25" fill="none"/>
<path d="M121.54 603.03 L127.69 601.49 L132.31 595.93 L135.38 586.67 L137.54 571.23 L139.38 546.54 L140.92 518.75 L142.15 497.14 L143.08 489.43 L144.31 515.67 L145.85 546.54 L147.38 574.32 L149.23 594.39 L151.69 601.49 L154.77 603.03" fill="none" stroke="#2b25c0" stroke-width="1.2" stroke-linejoin="round" stroke-linecap="round"/>
<path d="M80.31 603.03 L106.15 603.03 L110.77 602.1 L113.85 600.56 L118.46 602.72 L124.62 601.49 L129.23 599.02 L132.31 592.84 L134.46 580.5 L136.31 558.89 L138.15 531.1 L140 503.32 L141.54 489.43 L143.08 489.43 L144.31 509.49 L145.85 540.36 L147.38 571.23 L149.23 592.84 L151.69 600.56 L155.38 603.03 L201.85 603.03" fill="none" stroke="#dc1a30" stroke-width="1.2" stroke-linejoin="round" stroke-linecap="round"/>
<path d="M386.17 601.91 L388.64 595.76 L390.8 583.48 L392.95 561.97 L394.81 537.4 L396.66 509.75 L398.2 491.32 L399.12 488.25 L400.05 500.54 L401.9 518.97 L403.75 546.61 L405.6 571.19 L407.76 589.62 L409.92 597.3 L413 601.91Z" fill="#dadada" stroke="#a8a8a8" stroke-width="0.7" stroke-linejoin="round"/>
<rect x="380" y="481.2" width="121.8" height="120.7" fill="none" stroke="#7a7a7a" stroke-width="1"/>
<text x="375.2" y="604.16" font-size="6" font-weight="normal" fill="#2e2e2e" text-anchor="end" stroke="#2e2e2e" stroke-width="0.12">0</text>
<text x="375.2" y="581.11" font-size="6" font-weight="normal" fill="#2e2e2e" text-anchor="end" stroke="#2e2e2e" stroke-width="0.12">20</text>
<text x="375.2" y="558.05" font-size="6" font-weight="normal" fill="#2e2e2e" text-anchor="end" stroke="#2e2e2e" stroke-width="0.12">40</text>
<text x="375.2" y="535" font-size="6" font-weight="normal" fill="#2e2e2e" text-anchor="end" stroke="#2e2e2e" stroke-width="0.12">60</text>
<text x="375.2" y="511.95" font-size="6" font-weight="normal" fill="#2e2e2e" text-anchor="end" stroke="#2e2e2e" stroke-width="0.12">80</text>
<text x="375.2" y="488.89" font-size="6" font-weight="normal" fill="#2e2e2e" text-anchor="end" stroke="#2e2e2e" stroke-width="0.12">100</text>
<path d="M376.6 601.9H380M378.4 596.14H380M378.4 590.37H380M378.4 584.61H380M376.6 578.85H380M378.4 573.08H380M378.4 567.32H380M378.4 561.56H380M376.6 555.79H380M378.4 550.03H380M378.4 544.27H380M378.4 538.5H380M376.6 532.74H380M378.4 526.98H380M378.4 521.21H380M378.4 515.45H380M376.6 509.69H380M378.4 503.92H380M378.4 498.16H380M378.4 492.39H380M376.6 486.63H380M392.79 601.9V604.9M404.97 601.9V604.9M434.57 601.9V604.9M462.58 601.9V604.9M490.23 601.9V604.9M396.06 601.9V603.5M398.4 601.9V603.5M400.38 601.9V603.5M402.1 601.9V603.5M403.61 601.9V603.5M413.88 601.9V603.5M419.09 601.9V603.5M422.79 601.9V603.5M425.66 601.9V603.5M428 601.9V603.5M429.98 601.9V603.5M431.7 601.9V603.5M433.21 601.9V603.5M443.48 601.9V603.5M448.69 601.9V603.5M452.39 601.9V603.5M455.25 601.9V603.5M457.6 601.9V603.5M459.58 601.9V603.5M461.3 601.9V603.5M462.81 601.9V603.5M473.07 601.9V603.5M478.29 601.9V603.5M481.98 601.9V603.5M484.85 601.9V603.5M487.2 601.9V603.5M489.18 601.9V603.5M490.89 601.9V603.5M492.41 601.9V603.5M383.65 601.9V603.5M387.31 601.9V603.5" stroke="#444" stroke-width="0.9" fill="none"/>
<path d="M392.79 601.9V605.1" stroke="#111" stroke-width="1.3" fill="none"/>
<text x="393.09" y="614" font-size="6.3" font-weight="normal" fill="#2e2e2e" text-anchor="middle" stroke="#2e2e2e" stroke-width="0.12">0</text>
<text x="405.57" y="614" font-size="6.3" fill="#2e2e2e" stroke="#2e2e2e" stroke-width="0.15" text-anchor="middle">10<tspan dy="-2.3" font-size="3.96">2</tspan></text>
<text x="435.17" y="614" font-size="6.3" fill="#2e2e2e" stroke="#2e2e2e" stroke-width="0.15" text-anchor="middle">10<tspan dy="-2.3" font-size="3.96">3</tspan></text>
<text x="463.18" y="614" font-size="6.3" fill="#2e2e2e" stroke="#2e2e2e" stroke-width="0.15" text-anchor="middle">10<tspan dy="-2.3" font-size="3.96">4</tspan></text>
<text x="490.83" y="614" font-size="6.3" fill="#2e2e2e" stroke="#2e2e2e" stroke-width="0.15" text-anchor="middle">10<tspan dy="-2.3" font-size="3.96">5</tspan></text>
<path d="M380 601.9H501.8" stroke="#dc1a30" stroke-width="1.25" fill="none"/>
<path d="M398.51 601.91 L403.13 598.84 L406.22 592.69 L408.69 577.33 L411.15 558.9 L413.62 546.61 L416.09 522.04 L417.94 500.54 L419.79 499 L421.02 488.86 L422.57 497.47 L424.11 500.54 L425.65 509.75 L427.19 531.26 L429.04 555.83 L430.89 577.33 L433.05 589.62 L435.83 595.76 L439.53 600.37 L444.77 601.91" fill="none" stroke="#2b25c0" stroke-width="1.2" stroke-linejoin="round" stroke-linecap="round"/>
<path d="M380 601.91 L396.96 601.91 L401.59 600.37 L404.68 595.76 L406.84 586.55 L409.3 580.4 L411.77 561.97 L413.93 552.76 L416.09 531.26 L417.63 503.61 L419.17 500.54 L420.72 509.75 L422.57 497.47 L424.11 488.86 L425.65 503.61 L427.5 506.68 L429.04 522.04 L430.89 543.54 L432.75 561.97 L435.21 583.48 L437.68 591.16 L440.77 597.3 L444.77 600.37 L450.94 601.91 L501.84 601.91" fill="none" stroke="#dc1a30" stroke-width="1.2" stroke-linejoin="round" stroke-linecap="round"/>
<path d="M232.3 487.7H248.3" stroke="#b4b4b4" stroke-width="1.6" fill="none"/>
<text x="252.9" y="491" font-size="10" font-weight="bold" fill="#000" text-anchor="start" stroke="#000" stroke-width="0.12">isotype control</text>
<path d="M232.3 505.4H248.3" stroke="#2b25c0" stroke-width="1.6" fill="none"/>
<text x="252.9" y="508.7" font-size="10" font-weight="bold" fill="#3a33c4" text-anchor="start" stroke="#3a33c4" stroke-width="0.12">Naive</text>
<path d="M232.3 525.3H248.3" stroke="#dc1a30" stroke-width="1.6" fill="none"/>
<text x="252.9" y="528.6" font-size="10" font-weight="bold" fill="#e0202f" text-anchor="start" stroke="#e0202f" stroke-width="0.12">AML-bearing</text>
<path d="M53.3 629.3V562M53.3 629.3H127" stroke="#000" stroke-width="1.5" fill="none" stroke-linecap="square"/>
<path d="M53.3 555.5L50.6 563.2H56Z" fill="#000"/>
<path d="M134.5 629.3L126.5 626.6V632Z" fill="#000"/>
<text x="47.9" y="598.3" font-size="10" font-weight="bold" fill="#000" text-anchor="middle" transform="rotate(-90 47.9 598.3)" stroke="#000" stroke-width="0.4">% Max</text>
<text x="87.7" y="639.3" font-size="9.8" font-weight="bold" fill="#000" text-anchor="middle" stroke="#000" stroke-width="0.12">gal-9</text>
<path d="M74.7 674.2V781.2H177M72.5 674.2H74.7M72.5 695.6H74.7M72.5 717H74.7M72.5 738.4H74.7M72.5 759.8H74.7M72.5 781.2H74.7" stroke="#000" stroke-width="1.1" fill="none" stroke-linecap="butt"/>
<text x="71.8" y="677.15" font-size="8.2" fill="#000" stroke="#000" stroke-width="0.38" text-anchor="end" letter-spacing="0.25">1.2x10<tspan dy="-2.5" font-size="4.43">5</tspan></text>
<text x="71.8" y="698.55" font-size="8.2" fill="#000" stroke="#000" stroke-width="0.38" text-anchor="end" letter-spacing="0.25">1.0x10<tspan dy="-2.5" font-size="4.43">5</tspan></text>
<text x="71.8" y="719.95" font-size="8.2" fill="#000" stroke="#000" stroke-width="0.38" text-anchor="end" letter-spacing="0.25">7.5x10<tspan dy="-2.5" font-size="4.43">4</tspan></text>
<text x="71.8" y="741.35" font-size="8.2" fill="#000" stroke="#000" stroke-width="0.38" text-anchor="end" letter-spacing="0.25">5.0x10<tspan dy="-2.5" font-size="4.43">4</tspan></text>
<text x="71.8" y="762.75" font-size="8.2" fill="#000" stroke="#000" stroke-width="0.38" text-anchor="end" letter-spacing="0.25">2.5x10<tspan dy="-2.5" font-size="4.43">4</tspan></text>
<text x="71.1" y="784.15" font-size="8.2" font-weight="normal" fill="#000" text-anchor="end" stroke="#000" stroke-width="0.32">0</text>
<path d="M99.9 781.2v2.4M151.05 781.2v2.4" stroke="#000" stroke-width="1" fill="none"/>
<rect x="82.6" y="768.5" width="34.6" height="12.7" fill="#000"/>
<path d="M99.9 768.5V763M91 763H108.7" stroke="#000" stroke-width="1.1" fill="none"/>
<rect x="133.6" y="699.5" width="34.9" height="81.7" fill="#000"/>
<path d="M151.05 699.5V681.8M142.4 681.8H160.4" stroke="#000" stroke-width="1.1" fill="none"/>
<path d="M101.7 677.6H151.2" stroke="#000" stroke-width="1.1" fill="none"/>
<text x="128" y="674.8" font-size="8.8" font-weight="normal" fill="#000" text-anchor="middle" letter-spacing="0.25" stroke="#000" stroke-width="0.32">p&lt;0.001</text>
<text x="99.9" y="792.2" font-size="8.2" font-weight="normal" fill="#000" text-anchor="middle" stroke="#000" stroke-width="0.32">Naive</text>
<text x="151.2" y="792.2" font-size="8.2" font-weight="normal" fill="#000" text-anchor="middle" stroke="#000" stroke-width="0.32">AML</text>
<text x="29.9" y="725.8" font-size="8.3" font-weight="bold" fill="#000" text-anchor="middle" transform="rotate(-90 29.9 725.8)" stroke="#000" stroke-width="0.4">CD11b+Gr-1+ cell number/liver</text>
<text x="131" y="657.5" font-size="10.6" font-weight="bold" fill="#000" text-anchor="middle" stroke="#000" stroke-width="0.12">Liver</text>
<path d="M242.1 673.6V781.2H344.8M239.9 673.6H242.1M239.9 709.5H242.1M239.9 745.3H242.1M239.9 781.2H242.1" stroke="#000" stroke-width="1.1" fill="none" stroke-linecap="butt"/>
<text x="239.2" y="676.55" font-size="8.2" fill="#000" stroke="#000" stroke-width="0.38" text-anchor="end" letter-spacing="0.25">1.5x10<tspan dy="-2.5" font-size="4.43">7</tspan></text>
<text x="239.2" y="712.45" font-size="8.2" fill="#000" stroke="#000" stroke-width="0.38" text-anchor="end" letter-spacing="0.25">1.0x10<tspan dy="-2.5" font-size="4.43">7</tspan></text>
<text x="239.2" y="748.25" font-size="8.2" fill="#000" stroke="#000" stroke-width="0.38" text-anchor="end" letter-spacing="0.25">5.0x10<tspan dy="-2.5" font-size="4.43">6</tspan></text>
<text x="238.5" y="784.15" font-size="8.2" font-weight="normal" fill="#000" text-anchor="end" stroke="#000" stroke-width="0.32">0</text>
<path d="M267.8 781.2v2.4M318.95 781.2v2.4" stroke="#000" stroke-width="1" fill="none"/>
<rect x="250.3" y="693.3" width="35" height="87.9" fill="#000"/>
<path d="M267.8 693.3V677.6M259 677.6H277" stroke="#000" stroke-width="1.1" fill="none"/>
<rect x="301.6" y="690.7" width="34.7" height="90.5" fill="#000"/>
<path d="M318.95 690.7V679.2M310 679.2H327.8" stroke="#000" stroke-width="1.1" fill="none"/>
<text x="268.3" y="792.2" font-size="8.2" font-weight="normal" fill="#000" text-anchor="middle" stroke="#000" stroke-width="0.32">Naive</text>
<text x="319" y="792.2" font-size="8.2" font-weight="normal" fill="#000" text-anchor="middle" stroke="#000" stroke-width="0.32">AML</text>
<text x="198.3" y="725.9" font-size="8.3" font-weight="bold" fill="#000" text-anchor="middle" transform="rotate(-90 198.3 725.9)" stroke="#000" stroke-width="0.4">CD11b+Gr-1+ cell number/ BM</text>
<text x="294.4" y="658" font-size="10.6" font-weight="bold" fill="#000" text-anchor="middle" stroke="#000" stroke-width="0.12">Bone Marrow</text>
<path d="M413 674.5V781.5H516.2M410.8 674.5H413M410.8 701.25H413M410.8 728H413M410.8 754.75H413M410.8 781.5H413" stroke="#000" stroke-width="1.1" fill="none" stroke-linecap="butt"/>
<text x="410.1" y="677.45" font-size="8.2" fill="#000" stroke="#000" stroke-width="0.38" text-anchor="end" letter-spacing="0.25">8.0x10<tspan dy="-2.5" font-size="4.43">6</tspan></text>
<text x="410.1" y="704.2" font-size="8.2" fill="#000" stroke="#000" stroke-width="0.38" text-anchor="end" letter-spacing="0.25">6.0x10<tspan dy="-2.5" font-size="4.43">6</tspan></text>
<text x="410.1" y="730.95" font-size="8.2" fill="#000" stroke="#000" stroke-width="0.38" text-anchor="end" letter-spacing="0.25">4.0x10<tspan dy="-2.5" font-size="4.43">6</tspan></text>
<text x="410.1" y="757.7" font-size="8.2" fill="#000" stroke="#000" stroke-width="0.38" text-anchor="end" letter-spacing="0.25">2.0x10<tspan dy="-2.5" font-size="4.43">6</tspan></text>
<text x="409.4" y="784.45" font-size="8.2" font-weight="normal" fill="#000" text-anchor="end" stroke="#000" stroke-width="0.32">0</text>
<path d="M439.1 781.5v2.4M490.4 781.5v2.4" stroke="#000" stroke-width="1" fill="none"/>
<rect x="422" y="752.1" width="34.2" height="29.4" fill="#000"/>
<path d="M439.1 752.1V744M430.7 744H448" stroke="#000" stroke-width="1.1" fill="none"/>
<rect x="473.2" y="700.2" width="34.4" height="81.3" fill="#000"/>
<path d="M490.4 700.2V680.2M481.7 680.2H499.4" stroke="#000" stroke-width="1.1" fill="none"/>
<path d="M440.6 672.2H489.8" stroke="#000" stroke-width="1.1" fill="none"/>
<text x="463.9" y="669.6" font-size="8.8" font-weight="normal" fill="#000" text-anchor="middle" letter-spacing="0.25" stroke="#000" stroke-width="0.32">p&lt;0.01</text>
<text x="439" y="792.5" font-size="8.2" font-weight="normal" fill="#000" text-anchor="middle" stroke="#000" stroke-width="0.32">Naive</text>
<text x="490.6" y="792.5" font-size="8.2" font-weight="normal" fill="#000" text-anchor="middle" stroke="#000" stroke-width="0.32">AML</text>
<text x="369.3" y="725.8" font-size="8.3" font-weight="bold" fill="#000" text-anchor="middle" transform="rotate(-90 369.3 725.8)" stroke="#000" stroke-width="0.4">CD11b+Gr-1+ cell number/spleen</text>
<text x="462.8" y="655.7" font-size="10.6" font-weight="bold" fill="#000" text-anchor="middle" stroke="#000" stroke-width="0.12">Spleen</text>
<path d="M74.6 829.2V934H176.6M72.4 829.2H74.6M72.4 855.4H74.6M72.4 881.6H74.6M72.4 907.8H74.6M72.4 934H74.6" stroke="#000" stroke-width="1.1" fill="none" stroke-linecap="butt"/>
<text x="71.7" y="832.15" font-size="8.2" fill="#000" stroke="#000" stroke-width="0.38" text-anchor="end" letter-spacing="0.25">8.0x10<tspan dy="-2.5" font-size="4.43">4</tspan></text>
<text x="71.7" y="858.35" font-size="8.2" fill="#000" stroke="#000" stroke-width="0.38" text-anchor="end" letter-spacing="0.25">6.0x10<tspan dy="-2.5" font-size="4.43">4</tspan></text>
<text x="71.7" y="884.55" font-size="8.2" fill="#000" stroke="#000" stroke-width="0.38" text-anchor="end" letter-spacing="0.25">4.0x10<tspan dy="-2.5" font-size="4.43">4</tspan></text>
<text x="71.7" y="910.75" font-size="8.2" fill="#000" stroke="#000" stroke-width="0.38" text-anchor="end" letter-spacing="0.25">2.0x10<tspan dy="-2.5" font-size="4.43">4</tspan></text>
<text x="71" y="936.95" font-size="8.2" font-weight="normal" fill="#000" text-anchor="end" stroke="#000" stroke-width="0.32">0</text>
<path d="M99.5 934v2.4M150.6 934v2.4" stroke="#000" stroke-width="1" fill="none"/>
<rect x="82" y="929.1" width="35" height="4.9" fill="#000"/>
<path d="M99.5 929.1V926.8M90.7 926.8H108" stroke="#000" stroke-width="1.1" fill="none"/>
<rect x="133.2" y="847.7" width="34.8" height="86.3" fill="#000"/>
<path d="M150.6 847.7V835M141.7 835H159.7" stroke="#000" stroke-width="1.1" fill="none"/>
<path d="M100.5 830.9H148.6" stroke="#000" stroke-width="1.1" fill="none"/>
<text x="126" y="827.6" font-size="8.8" font-weight="normal" fill="#000" text-anchor="middle" letter-spacing="0.25" stroke="#000" stroke-width="0.32">p&lt;0.001</text>
<text x="99" y="945" font-size="8.2" font-weight="normal" fill="#000" text-anchor="middle" stroke="#000" stroke-width="0.32">Naive</text>
<text x="150.6" y="945" font-size="8.2" font-weight="normal" fill="#000" text-anchor="middle" stroke="#000" stroke-width="0.32">AML</text>
<text x="29.9" y="880.4" font-size="8.3" font-weight="bold" fill="#000" text-anchor="middle" transform="rotate(-90 29.9 880.4)" stroke="#000" stroke-width="0.4">CD11c+ cell number/liver</text>
<path d="M241 827.8V934H343.5M238.8 827.8H241M238.8 862.8H241M238.8 898H241M238.8 934H241" stroke="#000" stroke-width="1.1" fill="none" stroke-linecap="butt"/>
<text x="238.1" y="830.75" font-size="8.2" fill="#000" stroke="#000" stroke-width="0.38" text-anchor="end" letter-spacing="0.25">1.5x10<tspan dy="-2.5" font-size="4.43">6</tspan></text>
<text x="238.1" y="865.75" font-size="8.2" fill="#000" stroke="#000" stroke-width="0.38" text-anchor="end" letter-spacing="0.25">1.0x10<tspan dy="-2.5" font-size="4.43">6</tspan></text>
<text x="238.1" y="900.95" font-size="8.2" fill="#000" stroke="#000" stroke-width="0.38" text-anchor="end" letter-spacing="0.25">5.0x10<tspan dy="-2.5" font-size="4.43">5</tspan></text>
<text x="237.4" y="936.95" font-size="8.2" font-weight="normal" fill="#000" text-anchor="end" stroke="#000" stroke-width="0.32">0</text>
<path d="M266.65 934v2.4M317.3 934v2.4" stroke="#000" stroke-width="1" fill="none"/>
<rect x="249.3" y="885" width="34.7" height="49" fill="#000"/>
<path d="M266.65 885V877.5M257.8 877.5H275.5" stroke="#000" stroke-width="1.1" fill="none"/>
<rect x="300" y="850" width="34.6" height="84" fill="#000"/>
<path d="M317.3 850V841.8M308.5 841.8H326.5" stroke="#000" stroke-width="1.1" fill="none"/>
<path d="M267.6 835H315.7" stroke="#000" stroke-width="1.1" fill="none"/>
<text x="293.3" y="832.2" font-size="8.8" font-weight="normal" fill="#000" text-anchor="middle" letter-spacing="0.25" stroke="#000" stroke-width="0.32">p&lt;0.001</text>
<text x="266.6" y="945" font-size="8.2" font-weight="normal" fill="#000" text-anchor="middle" stroke="#000" stroke-width="0.32">Naive</text>
<text x="317.3" y="945" font-size="8.2" font-weight="normal" fill="#000" text-anchor="middle" stroke="#000" stroke-width="0.32">AML</text>
<text x="196.9" y="879.6" font-size="8.3" font-weight="bold" fill="#000" text-anchor="middle" transform="rotate(-90 196.9 879.6)" stroke="#000" stroke-width="0.4">CD11c+ cell number/ BM</text>
<path d="M413.3 829.2V934H514.9M411.1 829.2H413.3M411.1 855H413.3M411.1 881.4H413.3M411.1 907.9H413.3M411.1 934H413.3" stroke="#000" stroke-width="1.1" fill="none" stroke-linecap="butt"/>
<text x="410.4" y="832.15" font-size="8.2" fill="#000" stroke="#000" stroke-width="0.38" text-anchor="end" letter-spacing="0.25">1.0x10<tspan dy="-2.5" font-size="4.43">7</tspan></text>
<text x="410.4" y="857.95" font-size="8.2" fill="#000" stroke="#000" stroke-width="0.38" text-anchor="end" letter-spacing="0.25">7.5x10<tspan dy="-2.5" font-size="4.43">6</tspan></text>
<text x="410.4" y="884.35" font-size="8.2" fill="#000" stroke="#000" stroke-width="0.38" text-anchor="end" letter-spacing="0.25">5.0x10<tspan dy="-2.5" font-size="4.43">6</tspan></text>
<text x="410.4" y="910.85" font-size="8.2" fill="#000" stroke="#000" stroke-width="0.38" text-anchor="end" letter-spacing="0.25">2.5x10<tspan dy="-2.5" font-size="4.43">6</tspan></text>
<text x="409.7" y="936.95" font-size="8.2" font-weight="normal" fill="#000" text-anchor="end" stroke="#000" stroke-width="0.32">0</text>
<path d="M438.3 934v2.4M489.15 934v2.4" stroke="#000" stroke-width="1" fill="none"/>
<rect x="421" y="889" width="34.6" height="45" fill="#000"/>
<path d="M438.3 889V880.4M429.4 880.4H447" stroke="#000" stroke-width="1.1" fill="none"/>
<rect x="472" y="852.3" width="34.3" height="81.7" fill="#000"/>
<path d="M489.15 852.3V838.2M480.8 838.2H498" stroke="#000" stroke-width="1.1" fill="none"/>
<path d="M440 834.3H489" stroke="#000" stroke-width="1.1" fill="none"/>
<text x="463.9" y="831.6" font-size="8.8" font-weight="normal" fill="#000" text-anchor="middle" letter-spacing="0.25" stroke="#000" stroke-width="0.32">p&lt;0.01</text>
<text x="438.3" y="945" font-size="8.2" font-weight="normal" fill="#000" text-anchor="middle" stroke="#000" stroke-width="0.32">Naive</text>
<text x="489.6" y="945" font-size="8.2" font-weight="normal" fill="#000" text-anchor="middle" stroke="#000" stroke-width="0.32">AML</text>
<text x="369.4" y="880.3" font-size="8.3" font-weight="bold" fill="#000" text-anchor="middle" transform="rotate(-90 369.4 880.3)" stroke="#000" stroke-width="0.4">CD11c+ cell number/spleen</text>
<path d="M74.8 984.2V1090.4H176.6M72.6 984.2H74.8M72.6 1019.4H74.8M72.6 1055H74.8M72.6 1090.4H74.8" stroke="#000" stroke-width="1.1" fill="none" stroke-linecap="butt"/>
<text x="71.9" y="987.15" font-size="8.2" fill="#000" stroke="#000" stroke-width="0.38" text-anchor="end" letter-spacing="0.25">6.0x10<tspan dy="-2.5" font-size="4.43">4</tspan></text>
<text x="71.9" y="1022.35" font-size="8.2" fill="#000" stroke="#000" stroke-width="0.38" text-anchor="end" letter-spacing="0.25">4.0x10<tspan dy="-2.5" font-size="4.43">4</tspan></text>
<text x="71.9" y="1057.95" font-size="8.2" fill="#000" stroke="#000" stroke-width="0.38" text-anchor="end" letter-spacing="0.25">2.0x10<tspan dy="-2.5" font-size="4.43">4</tspan></text>
<text x="71.2" y="1093.35" font-size="8.2" font-weight="normal" fill="#000" text-anchor="end" stroke="#000" stroke-width="0.32">0</text>
<path d="M99.5 1090.4v2.4M150.6 1090.4v2.4" stroke="#000" stroke-width="1" fill="none"/>
<rect x="82" y="1083.8" width="35" height="6.6" fill="#000"/>
<path d="M99.5 1083.8V1080.6M90.7 1080.6H108" stroke="#000" stroke-width="1.1" fill="none"/>
<rect x="133.2" y="1007" width="34.8" height="83.4" fill="#000"/>
<path d="M150.6 1007V996.2M141.7 996.2H159.7" stroke="#000" stroke-width="1.1" fill="none"/>
<path d="M101.5 991.5H149.8" stroke="#000" stroke-width="1.1" fill="none"/>
<text x="127.3" y="988.9" font-size="8.8" font-weight="normal" fill="#000" text-anchor="middle" letter-spacing="0.25" stroke="#000" stroke-width="0.32">p&lt;0.001</text>
<text x="99" y="1101.3" font-size="8.2" font-weight="normal" fill="#000" text-anchor="middle" stroke="#000" stroke-width="0.32">Naive</text>
<text x="151.2" y="1101.3" font-size="8.2" font-weight="normal" fill="#000" text-anchor="middle" stroke="#000" stroke-width="0.32">AML</text>
<text x="29.9" y="1031.9" font-size="8.45" font-weight="bold" fill="#000" text-anchor="middle" transform="rotate(-90 29.9 1031.9)" stroke="#000" stroke-width="0.4">CD11b+Gr-1- cell number/liver</text>
<path d="M413.6 984.4V1090.9H516.2M411.4 984.1H413.6M411.4 1011H413.6M411.4 1037.7H413.6M411.4 1064.5H413.6M411.4 1091H413.6" stroke="#000" stroke-width="1.1" fill="none" stroke-linecap="butt"/>
<text x="410.7" y="987.05" font-size="8.2" fill="#000" stroke="#000" stroke-width="0.38" text-anchor="end" letter-spacing="0.25">1.0x10<tspan dy="-2.5" font-size="4.43">7</tspan></text>
<text x="410.7" y="1013.95" font-size="8.2" fill="#000" stroke="#000" stroke-width="0.38" text-anchor="end" letter-spacing="0.25">7.5x10<tspan dy="-2.5" font-size="4.43">6</tspan></text>
<text x="410.7" y="1040.65" font-size="8.2" fill="#000" stroke="#000" stroke-width="0.38" text-anchor="end" letter-spacing="0.25">5.0x10<tspan dy="-2.5" font-size="4.43">6</tspan></text>
<text x="410.7" y="1067.45" font-size="8.2" fill="#000" stroke="#000" stroke-width="0.38" text-anchor="end" letter-spacing="0.25">2.5x10<tspan dy="-2.5" font-size="4.43">6</tspan></text>
<text x="410" y="1093.95" font-size="8.2" font-weight="normal" fill="#000" text-anchor="end" stroke="#000" stroke-width="0.32">0</text>
<path d="M439.1 1090.9v2.4M490.4 1090.9v2.4" stroke="#000" stroke-width="1" fill="none"/>
<rect x="422" y="1047.2" width="34.2" height="43.7" fill="#000"/>
<path d="M439.1 1047.2V1039.1M430.7 1039.1H448" stroke="#000" stroke-width="1.1" fill="none"/>
<rect x="473.2" y="1010.3" width="34.4" height="80.6" fill="#000"/>
<path d="M490.4 1010.3V994M481.7 994H499.4" stroke="#000" stroke-width="1.1" fill="none"/>
<path d="M440.6 990.7H490.4" stroke="#000" stroke-width="1.1" fill="none"/>
<text x="464.5" y="988" font-size="8.8" font-weight="normal" fill="#000" text-anchor="middle" letter-spacing="0.25" stroke="#000" stroke-width="0.32">p&lt;0.01</text>
<text x="439" y="1101.6" font-size="8.2" font-weight="normal" fill="#000" text-anchor="middle" stroke="#000" stroke-width="0.32">Naive</text>
<text x="490.6" y="1101.6" font-size="8.2" font-weight="normal" fill="#000" text-anchor="middle" stroke="#000" stroke-width="0.32">AML</text>
<text x="369.1" y="1030.4" font-size="8.5" font-weight="bold" fill="#000" text-anchor="middle" transform="rotate(-90 369.1 1030.4)" stroke="#000" stroke-width="0.4">CD11b+Gr-1- cell number/spleen</text>
</g>
</svg>
</body></html>
